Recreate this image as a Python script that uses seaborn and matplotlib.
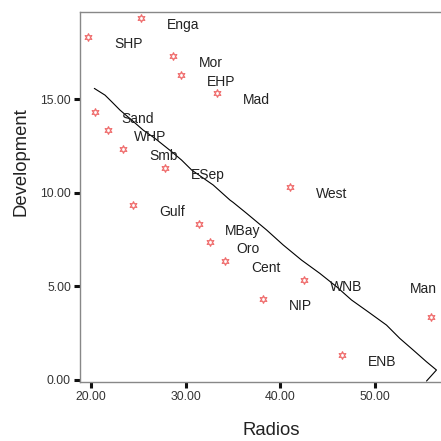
import matplotlib
matplotlib.use("Agg")
import matplotlib.pyplot as plt
import seaborn as sns
import pandas as pd

# Provinces: radio reach vs development index
provinces = ["Enga", "SHP", "Mor", "EHP", "Mad", "Sand", "WHP", "Smb", "ESep",
             "West", "Gulf", "MBay", "Oro", "Cent", "WNB", "NIP", "Man", "ENB"]
radios = [25.30, 19.75, 28.64, 29.49, 33.28, 20.48, 21.86, 23.44, 27.86,
          41.01, 24.49, 31.42, 32.58, 34.16, 42.52, 38.19, 55.94, 46.46]
development = [19.32, 18.29, 17.28, 16.27, 15.30, 14.29, 13.33, 12.31, 11.30,
               10.29, 9.34, 8.31, 7.35, 6.33, 5.34, 4.32, 3.34, 1.32]

# Hand-drawn trend line vertices
trend_x = [20.38, 21.51, 22.21, 23.09, 24.32, 25.54, 26.78, 28.54, 29.59, 30.65,
           32.92, 34.68, 35.03, 36.44, 38.55, 40.30, 42.24, 44.17, 45.93, 47.51,
           49.26, 51.20, 52.60, 54.01, 55.42, 56.47, 55.42]
trend_y = [15.57, 15.21, 14.86, 14.41, 13.88, 13.34, 12.90, 12.19, 11.74, 11.21,
           10.41, 9.61, 9.48, 8.90, 8.01, 7.21, 6.40, 5.69, 4.98, 4.27,
           3.64, 2.93, 2.22, 1.60, 0.97, 0.53, -0.06]

x_ticks = [20, 30, 40, 50]
y_ticks = [0, 5, 10, 15]

sns.set_theme(style="white")
plt.rcParams["font.family"] = ["Liberation Sans", "DejaVu Sans"]

df = pd.DataFrame({"Radios": radios, "Development": development, "Province": provinces})
trend = pd.DataFrame({"x": trend_x, "y": trend_y})

fig = plt.figure(figsize=(4.41, 4.41), dpi=100)
ax = fig.add_axes([80 / 441, 59 / 441, 361 / 441, 370 / 441])

sns.lineplot(data=trend, x="x", y="y", sort=False, estimator=None,
             color="black", linewidth=0.8, ax=ax)
sns.scatterplot(data=df, x="Radios", y="Development", marker=(6, 1, 0),
                s=30, facecolor="white", edgecolor="#ef6b6b", linewidth=0.9,
                ax=ax, zorder=3)

# Labels sit to the lower right of each point; the one at the right edge
# is lifted above and to the left so it stays inside the frame.
for name, xv, yv in zip(provinces, radios, development):
    offset = (-22, 28) if name == "Man" else (26, -7)
    ax.annotate(name, (xv, yv), xytext=offset, textcoords="offset pixels",
                ha="left", va="center", fontsize=10, color="#222222")

ax.set_xlim(18.87, 56.95)
ax.set_ylim(-0.11, 19.65)
ax.set_xticks(x_ticks)
ax.set_yticks(y_ticks)
ax.set_xticklabels([f"{v:.2f}" for v in x_ticks])
ax.set_yticklabels([f"{v:.2f}" for v in y_ticks])
ax.tick_params(axis="both", direction="out", length=4.3, width=2.2,
               color="#111111", labelsize=8.8, labelcolor="#333333", pad=2.2,
               left=True, bottom=True)

for side in ["left", "top", "bottom"]:
    ax.spines[side].set_color("#888888")
    ax.spines[side].set_linewidth(1.0)
ax.spines["right"].set_visible(False)

ax.set_xlabel("Radios", fontsize=13.3, color="#222222")
ax.set_ylabel("Development", fontsize=13.3, color="#222222")
ax.xaxis.set_label_coords(0.529, -0.108)
ax.yaxis.set_label_coords(-0.141, 0.595)

fig.savefig("out.png", dpi=100)
